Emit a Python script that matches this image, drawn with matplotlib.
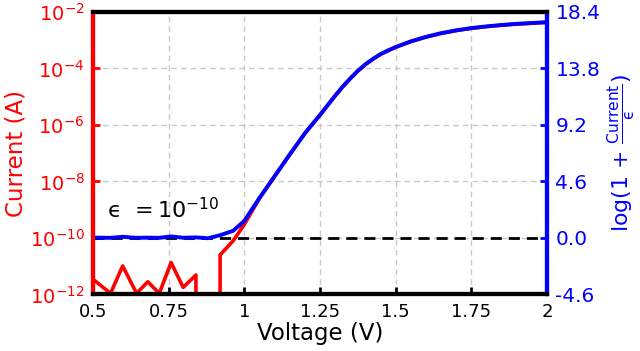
import numpy as np
import matplotlib
matplotlib.use("Agg")
import matplotlib.pyplot as plt

# ---- data ----
voltage = [0.500, 0.558, 0.598, 0.644, 0.681, 0.719, 0.758, 0.798, 0.840, 0.880,
           0.920, 0.963, 1.00, 1.05, 1.10, 1.15, 1.20, 1.25, 1.30, 1.325, 1.35, 1.375,
           1.40, 1.425, 1.45, 1.475, 1.50, 1.55, 1.60, 1.65, 1.70, 1.75, 1.80, 1.85,
           1.90, 1.95, 2.00]
log10_current = [-11.46, -11.96, -10.99, -11.96, -11.55, -11.96, -10.87, -11.75, -11.31, None,
                 -10.60, -10.10, -9.52, -8.60, -7.82, -7.05, -6.30, -5.65, -4.97, -4.65, -4.36, -4.09,
                 -3.86, -3.67, -3.50, -3.37, -3.25, -3.05, -2.89, -2.76, -2.66, -2.58, -2.52, -2.47,
                 -2.43, -2.40, -2.37]
negative_current_value = -2e-12   # point where the measured current dropped below zero
epsilon = 1e-10

xtick_vals = [0.5, 0.75, 1.0, 1.25, 1.5, 1.75, 2.0]
xtick_labels = ["0.5", "0.75", "1", "1.25", "1.5", "1.75", "2"]
left_ticks = [1e-12, 1e-10, 1e-8, 1e-6, 1e-4, 1e-2]
right_ticks = [-4.6, 0.0, 4.6, 9.2, 13.8, 18.4]

current = np.array([negative_current_value if v is None else 10.0 ** v for v in log10_current])
log_current = np.log(1 + current / epsilon)

fig = plt.figure(figsize=(6.4, 3.51), dpi=100)
ax = fig.add_axes([0.1453, 0.161, 0.7094, 0.805])

ax.plot(voltage, current, color="#ff0000", lw=2.6, zorder=3)
ax.set_yscale("log")
ax.set_ylim(1e-12, 1e-2)
ax.set_xlim(0.5, 2.0)
ax.set_yticks(left_ticks)
ax.minorticks_off()
ax.set_xticks(xtick_vals)
ax.set_xticklabels(xtick_labels)
ax.grid(True, ls="--", color="#c8c8c8", lw=1.0, dashes=(4, 3))
ax.set_axisbelow(True)

ax2 = ax.twinx()
ax2.axhline(0.0, color="black", ls="--", lw=2, dashes=(4, 2.5), zorder=1)
ax2.plot(voltage, log_current, color="#0000ff", lw=2.8, zorder=2)
ax2.set_ylim(-4.6, 18.4)
ax2.set_yticks(right_ticks)
ax2.set_yticklabels([f"{t:.1f}" for t in right_ticks])

for a in (ax, ax2):
    for s in a.spines.values():
        s.set_linewidth(3)
        s.set_color("black")
    a.spines["left"].set_color("#ff0000")
    a.spines["right"].set_color("#0000ff")

ax.tick_params(axis="y", colors="#ff0000", direction="in", width=2, length=5,
               labelsize=14, pad=6)
ax.tick_params(axis="x", colors="black", direction="in", width=2, length=5,
               labelsize=13, pad=6)
ax2.tick_params(axis="y", colors="#0000ff", direction="in", width=2, length=5,
                labelsize=14.5, pad=6)

ax.set_xlabel("Voltage (V)", fontsize=16.5, labelpad=1)
ax.set_ylabel("Current (A)", fontsize=16.5, color="#ff0000", labelpad=2)
ax2.set_ylabel("log(1 + $\\frac{\\mathrm{Current}}{\\mathrm{\u03f5}}$)", fontsize=15.8,
               color="#0000ff", labelpad=4)

ax.text(0.545, 1.0e-9, "\u03f5  =$\\,10^{-10}$", fontsize=16, va="center", ha="left")

fig.savefig("out.png", dpi=100)
